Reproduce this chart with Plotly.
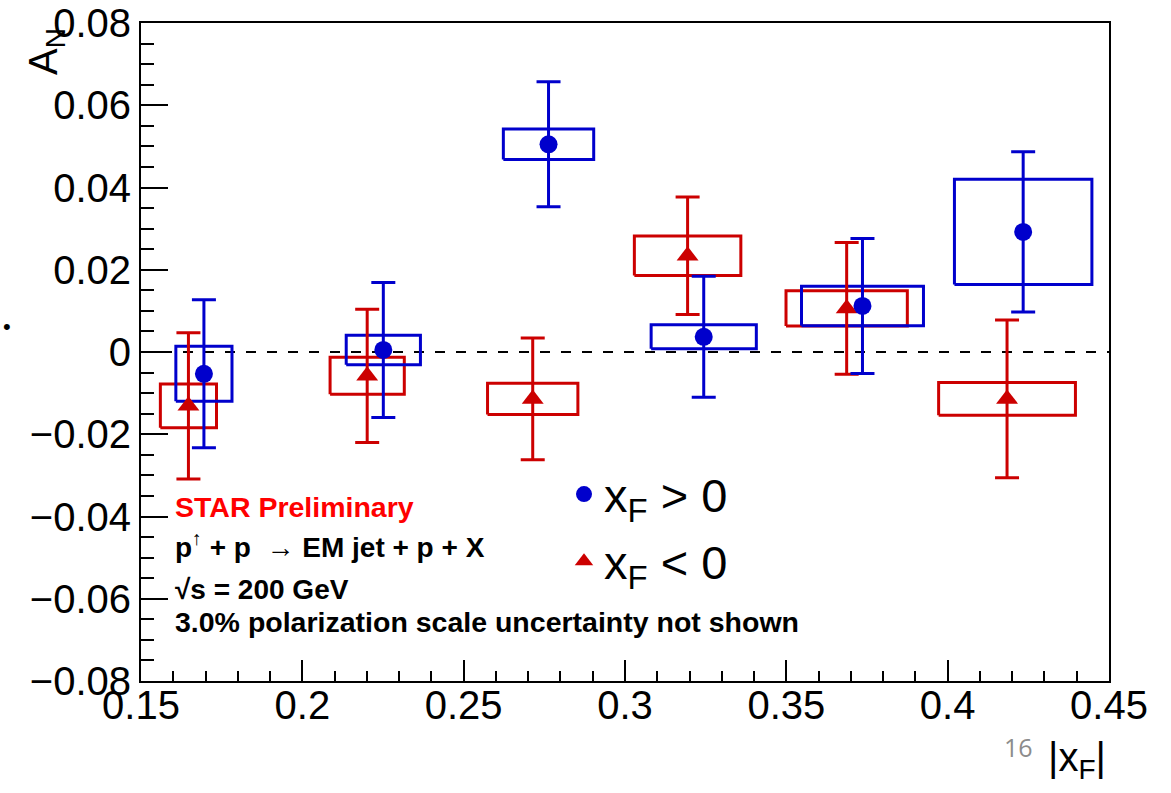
import plotly.graph_objects as go

# ---------------- data ----------------
# x_F > 0 (blue circles)
pos_x = [0.1695, 0.2251, 0.2763, 0.3244, 0.3736, 0.4234]
pos_y = [-0.0053, 0.0005, 0.0505, 0.0037, 0.0112, 0.0292]
pos_stat = [0.0180, 0.0164, 0.0152, 0.0147, 0.0164, 0.0195]
pos_sys_x = [0.0087, 0.0115, 0.0140, 0.0163, 0.0189, 0.0213]
pos_sys_y = [0.0067, 0.0036, 0.0037, 0.0029, 0.0048, 0.0128]

# x_F < 0 (red triangles)
neg_x = [0.1647, 0.2201, 0.2714, 0.3194, 0.3687, 0.4184]
neg_y = [-0.0131, -0.0058, -0.0114, 0.0234, 0.0106, -0.0114]
neg_stat = [0.0178, 0.0162, 0.0148, 0.0143, 0.0160, 0.0192]
neg_sys_x = [0.0087, 0.0115, 0.0140, 0.0165, 0.0188, 0.0212]
neg_sys_y = [0.0053, 0.0045, 0.0038, 0.0048, 0.0043, 0.0040]

x_range = [0.15, 0.45]
y_range = [-0.08, 0.08]

BLUE = "rgb(0,0,204)"
RED = "rgb(204,0,0)"
FONT = "Liberation Sans, Arial, sans-serif"


def box_path(xs, ys, sx, sy):
    px, py = [], []
    for x, y, dx, dy in zip(xs, ys, sx, sy):
        px += [x - dx, x + dx, x + dx, x - dx, x - dx, None]
        py += [y - dy, y - dy, y + dy, y + dy, y - dy, None]
    return px, py


fig = go.Figure()

bx, by = box_path(neg_x, neg_y, neg_sys_x, neg_sys_y)
fig.add_trace(go.Scatter(x=bx, y=by, mode="lines", line=dict(color=RED, width=3),
                         showlegend=False, hoverinfo="skip"))
bx, by = box_path(pos_x, pos_y, pos_sys_x, pos_sys_y)
fig.add_trace(go.Scatter(x=bx, y=by, mode="lines", line=dict(color=BLUE, width=3),
                         showlegend=False, hoverinfo="skip"))

fig.add_trace(go.Scatter(
    x=neg_x, y=neg_y, mode="markers", name="x<sub>F</sub> &lt; 0",
    marker=dict(symbol="triangle-up", size=19, color=RED),
    error_y=dict(type="data", array=neg_stat, color=RED, thickness=3, width=12),
    legendgroup="b", legendrank=2))
fig.add_trace(go.Scatter(
    x=pos_x, y=pos_y, mode="markers", name="x<sub>F</sub> &gt; 0",
    marker=dict(symbol="circle", size=18, color=BLUE),
    error_y=dict(type="data", array=pos_stat, color=BLUE, thickness=3, width=12),
    legendgroup="a", legendrank=1))

fig.add_hline(y=0, line=dict(color="black", width=2, dash="10px,11px"), layer="below")

# body margin is removed by post_script, so figure coords == page coords
L, T, PW, PH = 141, 23, 968, 658
W, H = 1171, 793
R, B = W - L - PW, H - T - PH


def px2x(px):
    return (px - L) / PW


def px2y(py):
    return (H - B - py) / PH


fig.update_layout(
    width=W, height=H,
    margin=dict(l=L, r=R, t=T, b=B, pad=0, autoexpand=False),
    paper_bgcolor="white", plot_bgcolor="white",
    font=dict(family=FONT, color="black"),
    showlegend=True,
    legend=dict(x=px2x(564), y=px2y(457), xanchor="left", yanchor="top",
                bgcolor="rgba(0,0,0,0)", font=dict(size=47, family=FONT),
                tracegroupgap=3, itemsizing="trace", traceorder="grouped"),
    xaxis=dict(range=x_range, tick0=0.15, dtick=0.05, ticks="inside", ticklen=21,
               tickwidth=2, tickcolor="black", showline=True, linecolor="black",
               linewidth=2, mirror=True, showgrid=False, zeroline=False, automargin=False,
               tickfont=dict(size=40, family=FONT), tickformat=".2~f",
               ticklabelstandoff=-12, ticklabeloverflow="allow",
               minor=dict(dtick=0.01, ticks="inside", ticklen=10, tickwidth=2,
                          tickcolor="black", showgrid=False)),
    yaxis=dict(range=y_range, tick0=0, dtick=0.02, ticks="inside", ticklen=27,
               tickwidth=2, tickcolor="black", showline=True, linecolor="black",
               linewidth=2, mirror=True, showgrid=False, zeroline=False, automargin=False,
               tickfont=dict(size=40, family=FONT), tickformat=".2~f",
               ticklabeloverflow="allow",
               minor=dict(dtick=0.005, ticks="inside", ticklen=13, tickwidth=2,
                          tickcolor="black", showgrid=False)),
)

ann = []
ann.append(dict(text="A<sub>N</sub>", textangle=-90, x=px2x(46), y=px2y(52),
                xanchor="center", yanchor="middle", font=dict(size=40)))
ann.append(dict(text="|x<sub>F</sub>|", x=px2x(1108), y=px2y(733),
                xanchor="right", yanchor="top", font=dict(size=40)))
ann.append(dict(text="16", x=px2x(1018), y=px2y(747), xanchor="center", yanchor="middle",
                font=dict(size=25, color="rgb(140,140,140)", family="Open Sans, sans-serif")))
ann.append(dict(text="•", x=px2x(7), y=px2y(326), xanchor="center", yanchor="middle",
                font=dict(size=22, color="black")))
ann.append(dict(text="<b>STAR Preliminary</b>", x=px2x(173), y=px2y(507),
                xanchor="left", yanchor="middle", font=dict(size=28.5, color="rgb(255,0,0)")))
ann.append(dict(text="<b>p<sup>↑</sup> + p  → EM jet + p + X</b>", x=px2x(173), y=px2y(545),
                xanchor="left", yanchor="middle", font=dict(size=28)))
ann.append(dict(text="<b>√s = 200 GeV</b>", x=px2x(173), y=px2y(589),
                xanchor="left", yanchor="middle", font=dict(size=28)))
ann.append(dict(text="<b>3.0% polarization scale uncertainty not shown</b>", x=px2x(173),
                y=px2y(622), xanchor="left", yanchor="middle", font=dict(size=28.5)))
for a in ann:
    a.update(xref="paper", yref="paper", showarrow=False)
fig.update_layout(annotations=ann)

fig.write_html("out.html", config={"displayModeBar": False},
               post_script="document.body.style.margin='0px';")
